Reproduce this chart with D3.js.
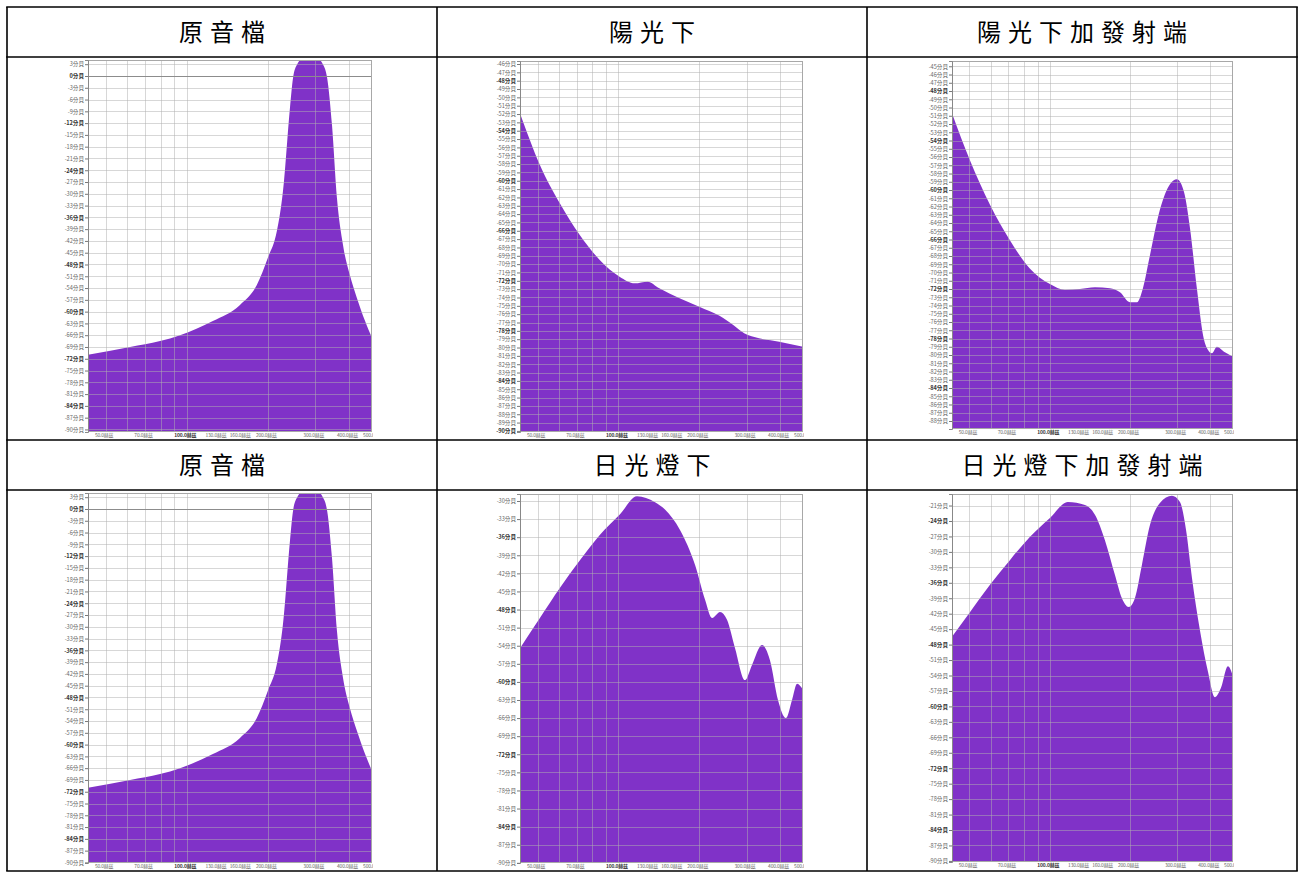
<!DOCTYPE html>
<html>
<head>
<meta charset="utf-8">
<script src="https://cdn.jsdelivr.net/npm/d3@7"></script>
<style>
  body { margin: 0; background: #fff; }
  svg { display: block; }
</style>
</head>
<body>
<svg id="chart" width="1299" height="873"></svg>
<script>
// Column headings, row by row
const headings = ["原音檔", "陽光下", "陽光下加發射端", "原音檔", "日光燈下", "日光燈下加發射端"];

// Frequency axis (Hz): grid lines, labelled ticks and visible range
const freqGrid = [50, 60, 70, 80, 90, 100, 200, 300, 400];
const freqTicks = [50, 70, 100, 130, 160, 200, 300, 400, 500];
const freqDomain = [43, 487];

// Level ticks (dB) for each spectrum
const dbTicksOriginal = [3, 0, -3, -6, -9, -12, -15, -18, -21, -24, -27, -30, -33, -36, -39, -42, -45, -48,
  -51, -54, -57, -60, -63, -66, -69, -72, -75, -78, -81, -84, -87, -90];
const dbTicksSun = [-46, -47, -48, -49, -50, -51, -52, -53, -54, -55, -56, -57, -58, -59, -60, -61, -62, -63,
  -64, -65, -66, -67, -68, -69, -70, -71, -72, -73, -74, -75, -76, -77, -78, -79, -80, -81, -82, -83, -84,
  -85, -86, -87, -88, -89, -90];
const dbTicksSunTx = [-45, -46, -47, -48, -49, -50, -51, -52, -53, -54, -55, -56, -57, -58, -59, -60, -61, -62,
  -63, -64, -65, -66, -67, -68, -69, -70, -71, -72, -73, -74, -75, -76, -77, -78, -79, -80, -81, -82, -83,
  -84, -85, -86, -87, -88];
const dbTicksFluo = [-30, -33, -36, -39, -42, -45, -48, -51, -54, -57, -60, -63, -66, -69, -72, -75, -78, -81,
  -84, -87, -90];
const dbTicksFluoTx = [-21, -24, -27, -30, -33, -36, -39, -42, -45, -48, -51, -54, -57, -60, -63, -66, -69,
  -72, -75, -78, -81, -84, -87, -90];

// Spectrum of the original recording
const originalFreq = [43, 61.6, 79.6, 94.4, 125, 157.6, 182, 200, 216, 227.6, 241.6, 248, 257, 287, 320,
  332, 346, 361, 380, 403, 428, 459, 487];
const originalDb = [-71.0, -69.0, -67.5, -66.0, -62.4, -58.3, -53.2, -46.3, -39.5, -29.3, -8.1, -0.5, 3.0,
  6.0, 3.0, -0.5, -12.5, -31.1, -43.0, -50.7, -56.5, -62.4, -66.7];

// Recorded in sunlight
const sunFreq = [43, 51, 60.5, 71.8, 85.2, 101, 115, 128.5, 142, 169, 200, 238, 270, 294, 334, 397, 487];
const sunDb = [-51.9, -58.1, -62.7, -66.5, -69.5, -71.5, -72.3, -72.1, -72.9, -74.1, -75.1, -76.2, -77.4,
  -78.3, -78.9, -79.3, -79.9];

// Sunlight with the transmitter
const sunTxFreq = [43, 50.2, 59.7, 70.9, 84.2, 100.2, 114, 129.8, 147.8, 168.2, 183.5, 200, 212.6, 223.7,
  237.7, 259, 282.6, 300, 318.8, 335.8, 357, 376, 392.6, 406, 424, 450.6, 487];
const sunTxDb = [-50.7, -56.4, -61.8, -66.1, -69.5, -71.4, -72.1, -72.0, -71.8, -71.9, -72.4, -73.6, -73.6,
  -71.9, -67.9, -62.4, -59.3, -58.7, -60.2, -64.6, -72.1, -77.6, -79.4, -79.8, -79.0, -79.6, -80.2];

// Under fluorescent light
const fluoFreq = [43, 51, 60.6, 72, 85.4, 101.4, 117.3, 136.9, 149.1, 169.6, 193, 210.4, 223.4, 239.1, 253.8,
  271.9, 296.2, 314.5, 342.6, 366.8, 393, 420.8, 443.3, 462.9, 487];
const fluoDb = [-54.4, -49.4, -44.4, -39.8, -35.6, -32.2, -29.2, -30.2, -31.4, -34.8, -40.6, -46.4, -49.4,
  -48.4, -49.7, -54.4, -59.7, -57.2, -53.9, -56.4, -63.0, -66.0, -63.0, -60.3, -61.3];

// Fluorescent light with the transmitter
const fluoTxFreq = [43, 50.2, 59.7, 70.9, 84.2, 100.2, 117, 135.6, 147.8, 161, 175.7, 186.6, 198, 208.7,
  221.8, 237.7, 259, 287.4, 308, 324.5, 341.8, 366, 392.6, 417, 439, 466, 487];
const fluoTxDb = [-46.5, -41.7, -36.4, -31.6, -27.1, -23.4, -20.3, -20.9, -22.8, -27.7, -34.5, -39.0, -40.7,
  -39.0, -32.5, -24.8, -20.5, -19.1, -20.3, -25.7, -35.1, -45.2, -53.3, -58.2, -56.4, -52.2, -54.1];

// ---- drawing ----
const W = 1299, H = 873;
const FILL = "rgb(128,50,200)";
const SMALL_FONT = "'Noto Sans CJK TC', 'Noto Sans', sans-serif";

const svg = d3.select("#chart");
svg.append("rect").attr("width", W).attr("height", H).attr("fill", "#fff");
const defs = svg.append("defs");

// table geometry
const colX = [7, 437, 867, 1297];
const rowY = [7, 57, 440, 490, 871];

// each spectrum panel: series, ticks and where its plot sits in the table
const panels = [
  { freq: originalFreq, db: originalDb, ticks: dbTicksOriginal, major: 12, zeroLine: true,
    left: 88, right: 372, top: 60, bottom: 432, dbTop: 4.07, dbBottom: -90.65, labelLeft: 58 },
  { freq: sunFreq, db: sunDb, ticks: dbTicksSun, major: 6,
    left: 520, right: 803, top: 61, bottom: 432, dbTop: -45.64, dbBottom: -90.13, labelLeft: 494 },
  { freq: sunTxFreq, db: sunTxDb, ticks: dbTicksSunTx, major: 6,
    left: 952, right: 1233, top: 61, bottom: 429, dbTop: -44.36, dbBottom: -88.97, labelLeft: 926 },
  { freq: originalFreq, db: originalDb, ticks: dbTicksOriginal, major: 12, zeroLine: true,
    left: 88, right: 372, top: 493, bottom: 863, dbTop: 4.07, dbBottom: -90.15, labelLeft: 58 },
  { freq: fluoFreq, db: fluoDb, ticks: dbTicksFluo, major: 12,
    left: 520, right: 803, top: 494, bottom: 863, dbTop: -28.84, dbBottom: -90.03, labelLeft: 494 },
  { freq: fluoTxFreq, db: fluoTxDb, ticks: dbTicksFluoTx, major: 12,
    left: 952, right: 1233, top: 494, bottom: 862, dbTop: -18.76, dbBottom: -90.21, labelLeft: 926 }
];

panels.forEach((p, i) => {
  const x = d3.scaleLog().domain(freqDomain).range([p.left, p.right]);
  const y = d3.scaleLinear().domain([p.dbTop, p.dbBottom]).range([p.top, p.bottom]);
  const g = svg.append("g").attr("class", "panel");

  defs.append("clipPath").attr("id", "plot" + i)
    .append("rect").attr("x", p.left).attr("y", p.top)
    .attr("width", p.right - p.left).attr("height", p.bottom - p.top);
  defs.append("clipPath").attr("id", "img" + i)
    .append("rect").attr("x", p.labelLeft).attr("y", p.top - 3)
    .attr("width", p.right + 1 - p.labelLeft).attr("height", p.bottom - p.top + 12);

  // plot background
  g.append("rect").attr("x", p.left).attr("y", p.top)
    .attr("width", p.right - p.left).attr("height", p.bottom - p.top).attr("fill", "#fff");

  // spectrum fill
  const area = d3.area()
    .x(d => x(d[0]))
    .y0(p.bottom)
    .y1(d => y(d[1]))
    .curve(d3.curveMonotoneX);
  g.append("path")
    .datum(d3.zip(p.freq, p.db))
    .attr("clip-path", `url(#plot${i})`)
    .attr("fill", FILL)
    .attr("d", area);

  // grid lines over the fill
  const grid = g.append("g").attr("clip-path", `url(#plot${i})`)
    .attr("stroke", "#b0b0b0").attr("stroke-opacity", 0.5).attr("stroke-width", 1);
  grid.selectAll(".h").data(p.ticks).join("line")
    .attr("x1", p.left).attr("x2", p.right)
    .attr("y1", d => Math.round(y(d)) + 0.5).attr("y2", d => Math.round(y(d)) + 0.5);
  grid.selectAll(".v").data(freqGrid).join("line")
    .attr("y1", p.top).attr("y2", p.bottom)
    .attr("x1", d => Math.round(x(d)) + 0.5).attr("x2", d => Math.round(x(d)) + 0.5);
  if (p.zeroLine) {
    g.append("line").attr("x1", p.left).attr("x2", p.right)
      .attr("y1", Math.round(y(0)) + 0.5).attr("y2", Math.round(y(0)) + 0.5)
      .attr("stroke", "#8c8c8c").attr("stroke-width", 1);
  }

  // frame
  g.append("rect").attr("x", p.left + 0.5).attr("y", p.top + 0.5)
    .attr("width", p.right - p.left - 1).attr("height", p.bottom - p.top - 1)
    .attr("fill", "none").attr("stroke", "#a8a8a8").attr("stroke-width", 1);

  // level axis
  const yAxis = d3.axisLeft(y).tickValues(p.ticks).tickSize(3).tickPadding(1)
    .tickFormat(d => d + "分貝");
  const ya = g.append("g").attr("transform", `translate(${p.left},0)`).call(yAxis);
  ya.attr("font-family", null).attr("font-size", null);
  ya.select(".domain").attr("stroke", "#888");
  ya.selectAll(".tick line").attr("stroke", "#777");
  ya.selectAll(".tick text")
    .attr("font-family", SMALL_FONT).attr("font-size", 5.6)
    .attr("font-weight", d => (d % p.major === 0 ? 700 : 400))
    .attr("fill", d => (d % p.major === 0 ? "#333" : "#666"));

  // frequency axis (clipped to the panel's right edge)
  const xAxis = d3.axisBottom(x).tickValues(freqTicks).tickSize(0).tickPadding(1.5)
    .tickFormat(d => d.toFixed(1) + "赫茲");
  const xaWrap = g.append("g").attr("clip-path", `url(#img${i})`);
  const xa = xaWrap.append("g").attr("transform", `translate(0,${p.bottom})`).call(xAxis);
  xa.select(".domain").remove();
  xa.attr("font-family", null).attr("font-size", null);
  xa.selectAll(".tick text")
    .attr("font-family", SMALL_FONT).attr("font-size", 4.9)
    .attr("letter-spacing", -0.15)
    .attr("dx", -2)
    .attr("font-weight", d => (d === 100 ? 700 : 400))
    .attr("fill", d => (d === 100 ? "#333" : "#666"));
});

// headings
const headG = svg.append("g")
  .attr("font-family", "'Noto Sans CJK TC', 'Noto Sans CJK JP', sans-serif")
  .attr("font-size", 24).attr("fill", "#000").attr("text-anchor", "middle");
headings.forEach((t, i) => {
  const c = i % 3, r = Math.floor(i / 3);
  const cx = (colX[c] + colX[c + 1]) / 2;
  const cy = r === 0 ? (rowY[0] + rowY[1]) / 2 : (rowY[2] + rowY[3]) / 2;
  headG.append("text")
    .attr("x", cx + 3.5).attr("y", cy)
    .attr("dy", "0.36em")
    .attr("letter-spacing", 7)
    .text(t);
});

// table rules
const rules = svg.append("g").attr("stroke", "#000").attr("stroke-width", 1.6);
rowY.forEach(yy => rules.append("line").attr("x1", colX[0] - 0.8).attr("x2", colX[3] + 0.8)
  .attr("y1", yy).attr("y2", yy));
colX.forEach(xx => rules.append("line").attr("x1", xx).attr("x2", xx)
  .attr("y1", rowY[0]).attr("y2", rowY[4]));
</script>
</body>
</html>
